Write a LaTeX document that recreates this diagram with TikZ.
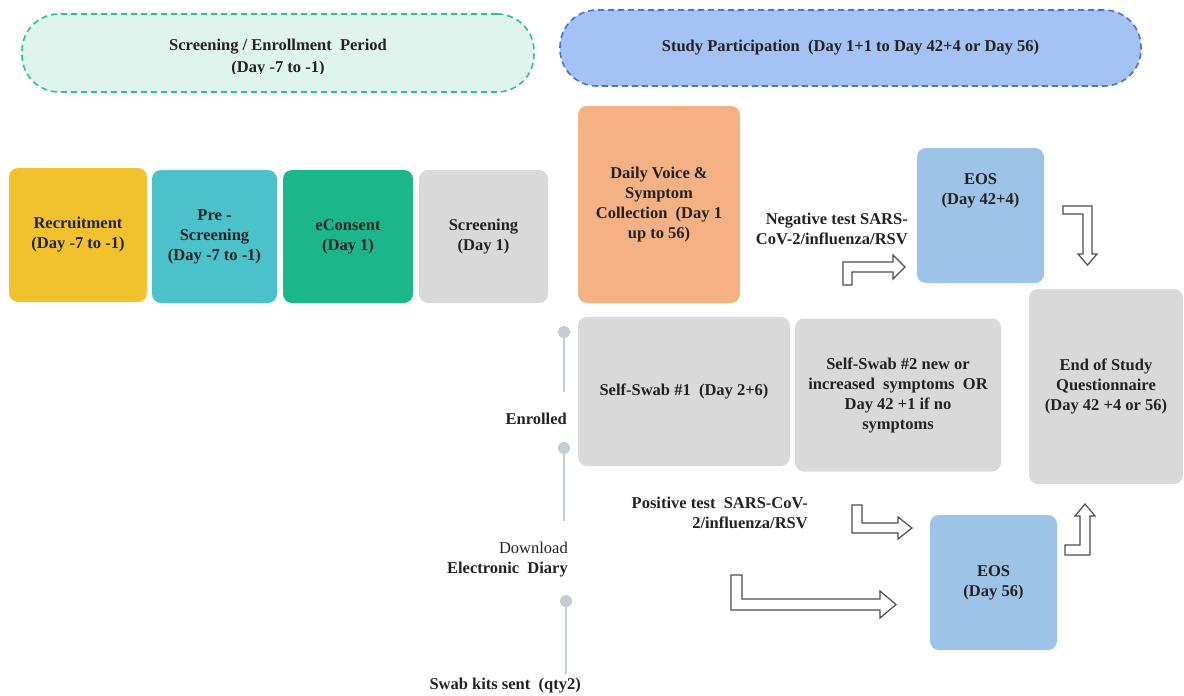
\documentclass[tikz,border=0pt]{standalone}
\usepackage{fontspec}
\setmainfont{Liberation Serif}[BoldFont={Liberation Serif Bold}]
\newfontfamily\tnr{Liberation Serif}[BoldFont={Liberation Serif Bold}]
\definecolor{mintfill}{HTML}{E0F4EE}
\definecolor{mintline}{HTML}{2DBF8F}
\definecolor{bluefill}{HTML}{A4C2F4}
\definecolor{blueline}{HTML}{3F74D9}
\definecolor{recr}{HTML}{F2C12E}
\definecolor{presc}{HTML}{4BC1CA}
\definecolor{econs}{HTML}{1BB68A}
\definecolor{grayb}{HTML}{D9D9D9}
\definecolor{daily}{HTML}{F4B183}
\definecolor{eos}{HTML}{9DC3E6}
\definecolor{tlgray}{HTML}{C3CDD3}
\definecolor{arrowgray}{HTML}{4D4D4D}
\definecolor{txt}{HTML}{222222}
\begin{document}
\begin{tikzpicture}[x=1pt,y=-1pt,
  every node/.style={font=\tnr\fontsize{16.5}{20}\selectfont\bfseries, text=txt, align=center, inner sep=1pt},
  box/.style={rounded corners=9pt, inner sep=2pt},
  pill/.style={rounded corners=37pt, dash pattern=on 6pt off 4pt, line width=1.6pt},
  barrow/.style={draw=arrowgray, fill=white, line width=1.2pt, line join=miter},
  tl/.style={draw=tlgray, line width=2.5pt},
  tldot/.style={circle, fill=tlgray, minimum size=12pt, inner sep=0pt}
]
\useasboundingbox (0,0) rectangle (1184,696);

% header pills
\node[pill, draw=mintline, fill=mintfill, minimum width=512pt, minimum height=78pt] (p1) at (278,53) {};
\begin{scope}
\clip (22,14) rectangle (534,73);
\node[font=\tnr\fontsize{16.5}{22}\selectfont\bfseries] (p1t) at (278,58) {Screening / Enrollment\ \ Period\\(Day -7 to -1)};
\end{scope}
\node[pill, draw=blueline, fill=bluefill, minimum width=581pt, minimum height=76pt] (p2) at (850.5,48)
  {Study Participation\ \ (Day 1+1 to Day 42+4 or Day 56)};

% screening boxes
\node[box, fill=recr, minimum width=138pt, minimum height=134pt] (rec) at (78,235) {Recruitment\\(Day -7 to -1)};
\node[box, fill=presc, minimum width=125pt, minimum height=133pt] (pre) at (214.5,236.5) {Pre -\\Screening\\(Day -7 to -1)};
\node[box, fill=econs, minimum width=130pt, minimum height=133pt] (eco) at (348,236.5) {eConsent\\(Day 1)};
\node[box, fill=grayb, minimum width=129pt, minimum height=133pt] (scr) at (483.5,236.5) {Screening\\(Day 1)};

% study boxes
\node[box, fill=daily, minimum width=162pt, minimum height=197pt] (dvs) at (659,204.5) {Daily Voice \&\\Symptom\\Collection\ \ (Day 1\\up to 56)};
\node[box, fill=eos, minimum width=127pt, minimum height=135pt] (eos1) at (980.5,215.5) {};
\node (eos1t) at (980.5,191) {EOS\\(Day 42+4)};
\node[box, fill=grayb, minimum width=212pt, minimum height=149pt] (ss1) at (684,391.5) {Self-Swab \#1\ \ (Day 2+6)};
\node[box, fill=grayb, minimum width=206pt, minimum height=153pt] (ss2) at (898,395) {Self-Swab \#2 new or\\increased\ \ symptoms\ \ OR\\Day 42 +1 if no\\symptoms};
\node[box, fill=grayb, minimum width=154pt, minimum height=195pt] (eosq) at (1106,386.5) {End of Study\\Questionnaire\\(Day 42 +4 or 56)};
\node[box, fill=eos, minimum width=127pt, minimum height=135pt] (eos2) at (993.5,582.5) {EOS\\(Day 56)};

% condition texts
\node[anchor=east, align=right] (neg) at (909,229) {Negative test SARS-\\CoV-2/influenza/RSV};
\node[anchor=east, align=right] (pos) at (809,513) {Positive test\ \ SARS-CoV-\\2/influenza/RSV};

% bent block arrows
\draw[barrow] (843,285) -- (843,262) -- (893,262) -- (893,255) -- (905,267) -- (893,279) -- (893,272) -- (852,272) -- (852,285) -- cycle;
\draw[barrow] (1063,206) -- (1092,206) -- (1092,254) -- (1097,254) -- (1087.5,265) -- (1078,254) -- (1083,254) -- (1083,214) -- (1063,214) -- cycle;
\draw[barrow] (852,505) -- (862,505) -- (862,523) -- (898,523) -- (898,517) -- (912,528) -- (898,539) -- (898,533) -- (852,533) -- cycle;
\draw[barrow] (731,575) -- (742,575) -- (742,599) -- (880,599) -- (880,591) -- (896,604.5) -- (880,618) -- (880,610) -- (731,610) -- cycle;
\draw[barrow] (1065,545) -- (1080,545) -- (1080,516) -- (1075,516) -- (1085,504) -- (1095,516) -- (1090,516) -- (1090,555) -- (1065,555) -- cycle;

% timeline
\node[tldot] (d1) at (564,332) {};
\coordinate (e1) at (564,392);
\draw[tl] (d1) -- (e1);
\node[tldot] (d2) at (564,448) {};
\coordinate (e2) at (564,521);
\draw[tl] (d2) -- (e2);
\node[tldot] (d3) at (566,601) {};
\coordinate (e3) at (566,674);
\draw[tl] (d3) -- (e3);
\node[anchor=east] (enr) at (568,419) {Enrolled};
\node[anchor=east, align=right] (dl) at (569,560) {\mdseries Download\\Electronic\ \ Diary};
\node[anchor=east] (swab) at (582,686) {Swab kits sent\ \ (qty2)};
\end{tikzpicture}
\end{document}
